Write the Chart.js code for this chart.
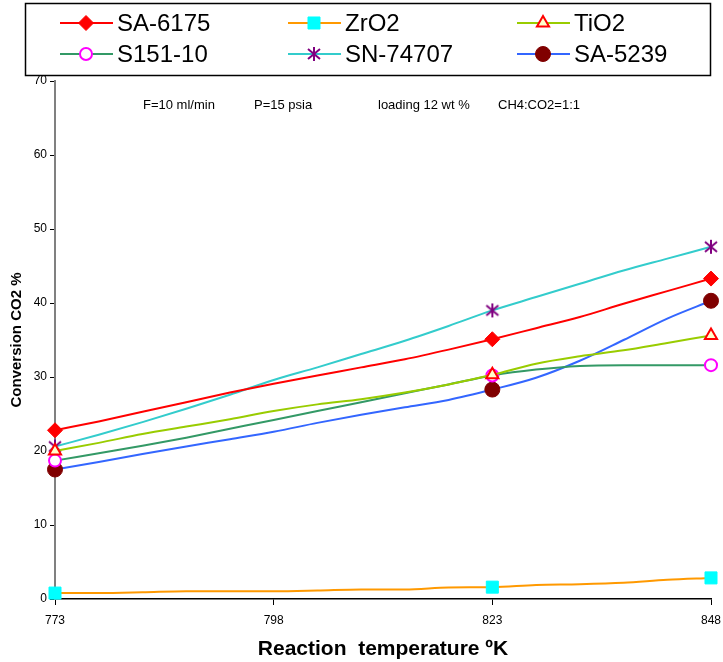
<!DOCTYPE html>
<html>
<head>
<meta charset="utf-8">
<script src="https://cdn.jsdelivr.net/npm/chart.js@4.4.1/dist/chart.umd.min.js"></script>
<style>
  body { margin: 0; background: #fff; }
  canvas { display: block; }
</style>
</head>
<body>
<canvas id="chart" width="723" height="662"></canvas>
<script>
// reaction temperatures (K), readings every 5 K
const temps = [773, 778, 783, 788, 793, 798, 803, 808, 813, 818, 823, 828, 833, 838, 843, 848];
const markerTemps = [773, 823, 848];
const xTicks = [773, 798, 823, 848];

const sa6175  = [22.8, 24.0, 25.3, 26.6, 27.9, 29.1, 30.2, 31.3, 32.4, 33.7, 35.1, 36.6, 38.1, 39.9, 41.6, 43.3];
const zro2    = [0.8, 0.8, 0.9, 1.05, 1.05, 1.05, 1.15, 1.3, 1.3, 1.55, 1.6, 1.9, 2.0, 2.2, 2.6, 2.85];
const tio2    = [20.0, 21.1, 22.3, 23.3, 24.3, 25.4, 26.3, 27.0, 27.9, 29.0, 30.3, 31.8, 32.8, 33.6, 34.6, 35.6];
const s15110  = [18.7, 19.7, 20.7, 21.8, 23.0, 24.2, 25.4, 26.6, 27.8, 29.0, 30.2, 31.0, 31.5, 31.6, 31.6, 31.6];
const sn74707 = [20.6, 22.2, 23.9, 25.7, 27.6, 29.6, 31.3, 33.1, 34.9, 36.9, 39.0, 40.8, 42.6, 44.4, 46.0, 47.6];
const sa5239  = [17.5, 18.5, 19.6, 20.6, 21.6, 22.6, 23.8, 24.9, 25.9, 26.9, 28.3, 29.9, 32.2, 35.0, 37.9, 40.3];

const notes = ['F=10 ml/min', 'P=15 psia', 'loading 12 wt %', 'CH4:CO2=1:1'];

const FONT = '"Liberation Sans", Arial, sans-serif';

// six-armed asterisk marker for SN-74707
function asteriskMarker() {
  const c = document.createElement('canvas');
  c.width = 16; c.height = 16;
  const g = c.getContext('2d');
  g.strokeStyle = '#800080';
  g.lineWidth = 2;
  g.beginPath();
  g.moveTo(8, 1); g.lineTo(8, 15);
  g.moveTo(2, 3); g.lineTo(14, 13);
  g.moveTo(14, 3); g.lineTo(2, 13);
  g.stroke();
  return c;
}

function series(label, values, line, marker) {
  return Object.assign({
    label,
    data: temps.map((t, i) => ({ x: t, y: values[i] })),
    borderColor: line,
    borderWidth: 2,
    clip: false,
    cubicInterpolationMode: 'monotone',
    pointRadius: c => markerTemps.includes(temps[c.dataIndex]) ? marker.radius : 0,
    pointHoverRadius: c => markerTemps.includes(temps[c.dataIndex]) ? marker.radius : 0
  }, marker);
}

const datasets = [
  series('SA-6175', sa6175, '#FF0000', { pointStyle: 'rectRot', radius: 7.5, pointBackgroundColor: '#FF0000', pointBorderColor: '#FF0000', pointBorderWidth: 1 }),
  series('ZrO2', zro2, '#FF9900', { pointStyle: 'rect', radius: 8.5, pointBackgroundColor: '#00FFFF', pointBorderColor: '#00FFFF', pointBorderWidth: 1 }),
  series('TiO2', tio2, '#99CC00', { pointStyle: 'triangle', radius: 7, pointBackgroundColor: '#FFFFCC', pointBorderColor: '#FF0000', pointBorderWidth: 2 }),
  series('S151-10', s15110, '#339966', { pointStyle: 'circle', radius: 6, pointBackgroundColor: '#FFFFFF', pointBorderColor: '#FF00FF', pointBorderWidth: 2 }),
  series('SN-74707', sn74707, '#33CCCC', { pointStyle: asteriskMarker(), radius: 8, pointBackgroundColor: '#800080', pointBorderColor: '#800080', pointBorderWidth: 1 }),
  series('SA-5239', sa5239, '#3366FF', { pointStyle: 'circle', radius: 7.5, pointBackgroundColor: '#800000', pointBorderColor: '#800000', pointBorderWidth: 1 })
];

// boxed legend (line + marker) and the condition notes
const boxLegend = {
  id: 'boxLegend',
  afterDraw(chart) {
    const ctx = chart.ctx;
    ctx.save();
    ctx.strokeStyle = '#000';
    ctx.lineWidth = 1.5;
    ctx.strokeRect(25.5, 3.5, 685, 72);

    const cols = [60, 288, 517];
    const rows = [23, 54];
    chart.data.datasets.forEach((ds, i) => {
      const x = cols[i % 3], y = rows[Math.floor(i / 3)];
      ctx.strokeStyle = ds.borderColor;
      ctx.lineWidth = 2;
      ctx.beginPath();
      ctx.moveTo(x, y); ctx.lineTo(x + 53, y);
      ctx.stroke();
      ctx.fillStyle = ds.pointBackgroundColor;
      ctx.strokeStyle = ds.pointBorderColor;
      ctx.lineWidth = ds.pointBorderWidth;
      Chart.helpers.drawPoint(ctx, { pointStyle: ds.pointStyle, radius: ds.radius, borderWidth: ds.pointBorderWidth, rotation: 0 }, x + 26, y);
      ctx.fillStyle = '#000';
      ctx.font = '24px ' + FONT;
      ctx.textBaseline = 'middle';
      ctx.textAlign = 'left';
      ctx.fillText(ds.label, x + 57, y + 1);
    });

    const a = chart.chartArea;
    const noteX = [88, 199, 323, 443];
    ctx.font = '13px ' + FONT;
    ctx.fillStyle = '#000';
    notes.forEach((t, i) => ctx.fillText(t, a.left + noteX[i], 105));
    ctx.restore();
  }
};

new Chart(document.getElementById('chart'), {
  type: 'line',
  data: { datasets },
  options: {
    responsive: false,
    animation: false,
    layout: { padding: { top: 81, right: 12, bottom: 0, left: 0 } },
    plugins: { legend: { display: false }, tooltip: { enabled: false } },
    scales: {
      x: {
        type: 'linear',
        min: 773, max: 848,
        afterBuildTicks: s => { s.ticks = xTicks.map(v => ({ value: v })); },
        afterFit: s => { s.height = 63; s.paddingLeft = 0; s.paddingRight = 0; },
        border: { color: '#000', width: 1.5 },
        grid: { drawOnChartArea: false, color: '#000', tickLength: 6 },
        ticks: { color: '#000', font: { family: FONT, size: 12 }, padding: 8, maxRotation: 0 },
        title: { display: true, text: 'Reaction  temperature ºK', color: '#000', font: { family: FONT, size: 21, weight: 'bold' }, padding: { top: 0, bottom: 0 } }
      },
      y: {
        min: 0, max: 70,
        afterFit: s => { s.width = 55; },
        border: { color: '#808080', width: 2 },
        grid: { drawOnChartArea: false, color: '#000', tickLength: 5 },
        ticks: { stepSize: 10, color: '#000', font: { family: FONT, size: 12 }, padding: 3 },
        title: { display: true, text: 'Conversion CO2 %', color: '#000', font: { family: FONT, size: 15, weight: 'bold' }, padding: { top: 8, bottom: 0 } }
      }
    }
  },
  plugins: [boxLegend]
});
</script>
</body>
</html>
